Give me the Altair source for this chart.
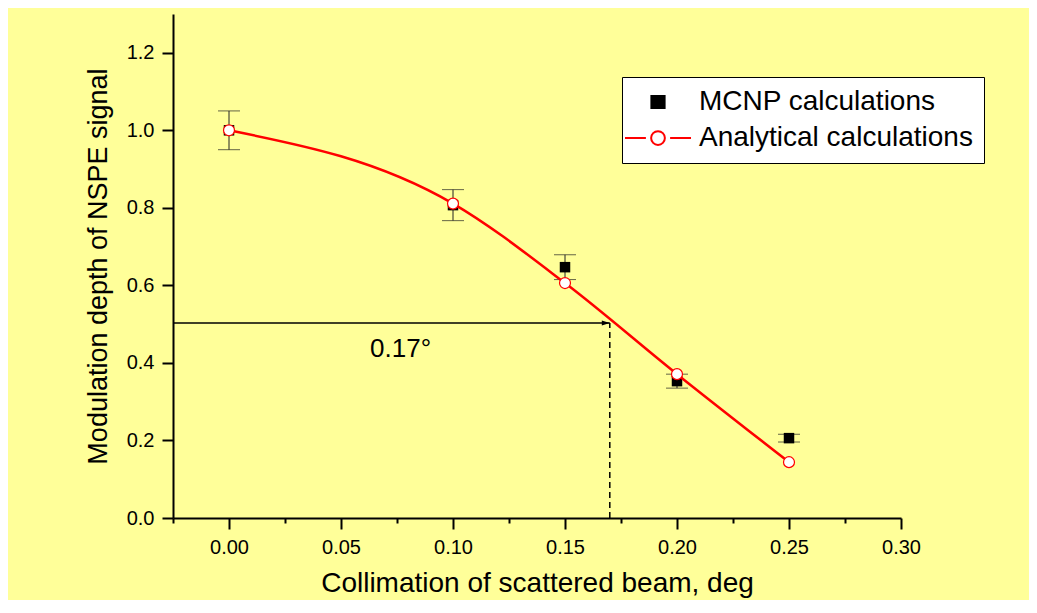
import altair as alt
import pandas as pd

# ---- data ----
angle = [0.00, 0.10, 0.15, 0.20, 0.25]
mcnp = [1.000, 0.807, 0.647, 0.353, 0.206]
mcnp_err = [0.050, 0.040, 0.032, 0.018, 0.010]
analytical = [1.000, 0.811, 0.606, 0.371, 0.144]

series_names = ["MCNP calculations", "Analytical calculations"]
x_ticks = [-0.025 + 0.025 * i for i in range(14)]
y_ticks = [0.1 * i for i in range(14)]

marker_angle = 0.17      # collimation
marker_depth = 0.503     # modulation depth level of the arrow
marker_label = "0.17°"
label_pos = (0.0766, 0.416)

FONT = "Liberation Sans"
BG = "#FFFF99"

df_m = pd.DataFrame({
    "x": angle, "y": mcnp,
    "lo": [v - e for v, e in zip(mcnp, mcnp_err)],
    "hi": [v + e for v, e in zip(mcnp, mcnp_err)],
})
df_a = pd.DataFrame({"x": angle, "y": analytical})
df_leg = pd.DataFrame({"x": [0.0, 0.0], "y": [0.0, 0.0], "series": series_names})
df_arrow = pd.DataFrame({"x0": [-0.025], "x1": [marker_angle], "y": [marker_depth], "y0": [0.0]})
df_txt = pd.DataFrame({"x": [label_pos[0]], "y": [label_pos[1]], "t": [marker_label]})

xscale = alt.Scale(domain=[-0.025, 0.30], nice=False, zero=False)
yscale = alt.Scale(domain=[0, 1.3], nice=False)

x_major = "abs(datum.value*20 - round(datum.value*20)) < 0.001"
y_major = "abs(datum.value*5 - round(datum.value*5)) < 0.001"

xaxis = alt.Axis(
    title="Collimation of scattered beam, deg", values=x_ticks, format=".2f",
    labelExpr=f"{x_major} ? datum.label : ''",
    tickSize={"condition": {"test": x_major, "value": 11}, "value": 5},
    grid=False, labelFontSize=20, titleFontSize=28, labelPadding=8, titlePadding=12,
    labelFlush=False, labelOverlap=False,
)
yaxis = alt.Axis(
    title="Modulation depth of NSPE signal", values=y_ticks, format=".1f",
    labelExpr=f"{y_major} ? datum.label : ''",
    tickSize={"condition": {"test": y_major, "value": 11}, "value": 6},
    grid=False, labelFontSize=20, titleFontSize=27, labelPadding=8, titlePadding=14,
    labelFlush=False, labelOverlap=False,
)

X = alt.X("x:Q", scale=xscale, axis=xaxis)
Y = alt.Y("y:Q", scale=yscale, axis=yaxis)

sq_path = "M-1.2,-1.1H1.2V1.1H-1.2Z"
an_path = ("M-6,0H-2.2M2.2,0H6M-1.25,0A1.25,1.25,0,1,1,1.25,0"
           "A1.25,1.25,0,1,1,-1.25,0Z")

legend = alt.Legend(
    title=None, orient="none", legendX=449, legendY=63,
    fillColor="white", strokeColor="black", padding=11, rowPadding=8,
    symbolSize=121, symbolStrokeWidth=2, symbolOffset=11, labelOffset=27,
    symbolOpacity=1, labelLimit=500,
    labelFontSize=28, labelFont=FONT, labelColor="black",
)

# legend-only layer (no visible marks): maps the series to legend symbols
leg_layer = alt.Chart(df_leg).mark_point(opacity=0, filled=False).encode(
    x=alt.X("x:Q", scale=xscale), y=alt.Y("y:Q", scale=yscale),
    shape=alt.Shape("series:N", scale=alt.Scale(domain=series_names, range=[sq_path, an_path]), legend=legend),
    fill=alt.Fill("series:N", scale=alt.Scale(domain=series_names, range=["black", "white"]), legend=legend),
    stroke=alt.Stroke("series:N", scale=alt.Scale(domain=series_names, range=["black", "#FF0000"]), legend=legend),
)

err = alt.Chart(df_m).mark_rule(color="#222222", strokeWidth=1).encode(
    x=X, y=alt.Y("lo:Q", scale=yscale), y2="hi:Q")
cap_lo = alt.Chart(df_m).mark_tick(color="#222222", thickness=1, size=22, orient="horizontal").encode(
    x=X, y=alt.Y("lo:Q", scale=yscale))
cap_hi = alt.Chart(df_m).mark_tick(color="#222222", thickness=1, size=22, orient="horizontal").encode(
    x=X, y=alt.Y("hi:Q", scale=yscale))
squares = alt.Chart(df_m).mark_point(shape="square", size=110, filled=True, color="black", opacity=1).encode(
    x=X, y=Y)

line = alt.Chart(df_a).mark_line(color="#FF0000", strokeWidth=2.5, interpolate="monotone").encode(x=X, y=Y)
circles = alt.Chart(df_a).mark_point(shape="circle", size=120, fill="white", stroke="#FF0000",
                                     opacity=1, fillOpacity=1, strokeWidth=1.2).encode(x=X, y=Y)

hline = alt.Chart(df_arrow).mark_rule(color="black", strokeWidth=1.5).encode(
    x=alt.X("x0:Q", scale=xscale), x2="x1:Q", y=alt.Y("y:Q", scale=yscale))
vline = alt.Chart(df_arrow).mark_rule(color="black", strokeWidth=1.5, strokeDash=[6, 4]).encode(
    x=alt.X("x1:Q", scale=xscale), y=alt.Y("y0:Q", scale=yscale), y2="y:Q")
head = alt.Chart(df_arrow).mark_point(
    shape="M-1,-0.6L1,0L-1,0.6Z", size=64, filled=True, color="black", opacity=1, xOffset=-4
).encode(x=alt.X("x1:Q", scale=xscale), y=alt.Y("y:Q", scale=yscale))
txt = alt.Chart(df_txt).mark_text(fontSize=26, font=FONT, color="black", align="center",
                                  baseline="alphabetic").encode(
    x=alt.X("x:Q", scale=xscale), y=alt.Y("y:Q", scale=yscale), text="t:N")

chart = alt.layer(leg_layer, err, cap_lo, cap_hi, squares, hline, vline, head, line, circles, txt).properties(
    width=728, height=504,
    autosize=alt.AutoSizeParams(type="none"),
    padding={"left": 165, "top": 6, "right": 128, "bottom": 82},
    background=BG,
).configure_view(stroke=None).configure_axis(
    domainColor="black", domainWidth=2, tickColor="black", tickWidth=2,
    labelColor="black", titleColor="black", labelFont=FONT, titleFont=FONT,
    titleFontWeight="normal",
)

chart.save("out.html", embed_options={"renderer": "svg", "actions": False})
